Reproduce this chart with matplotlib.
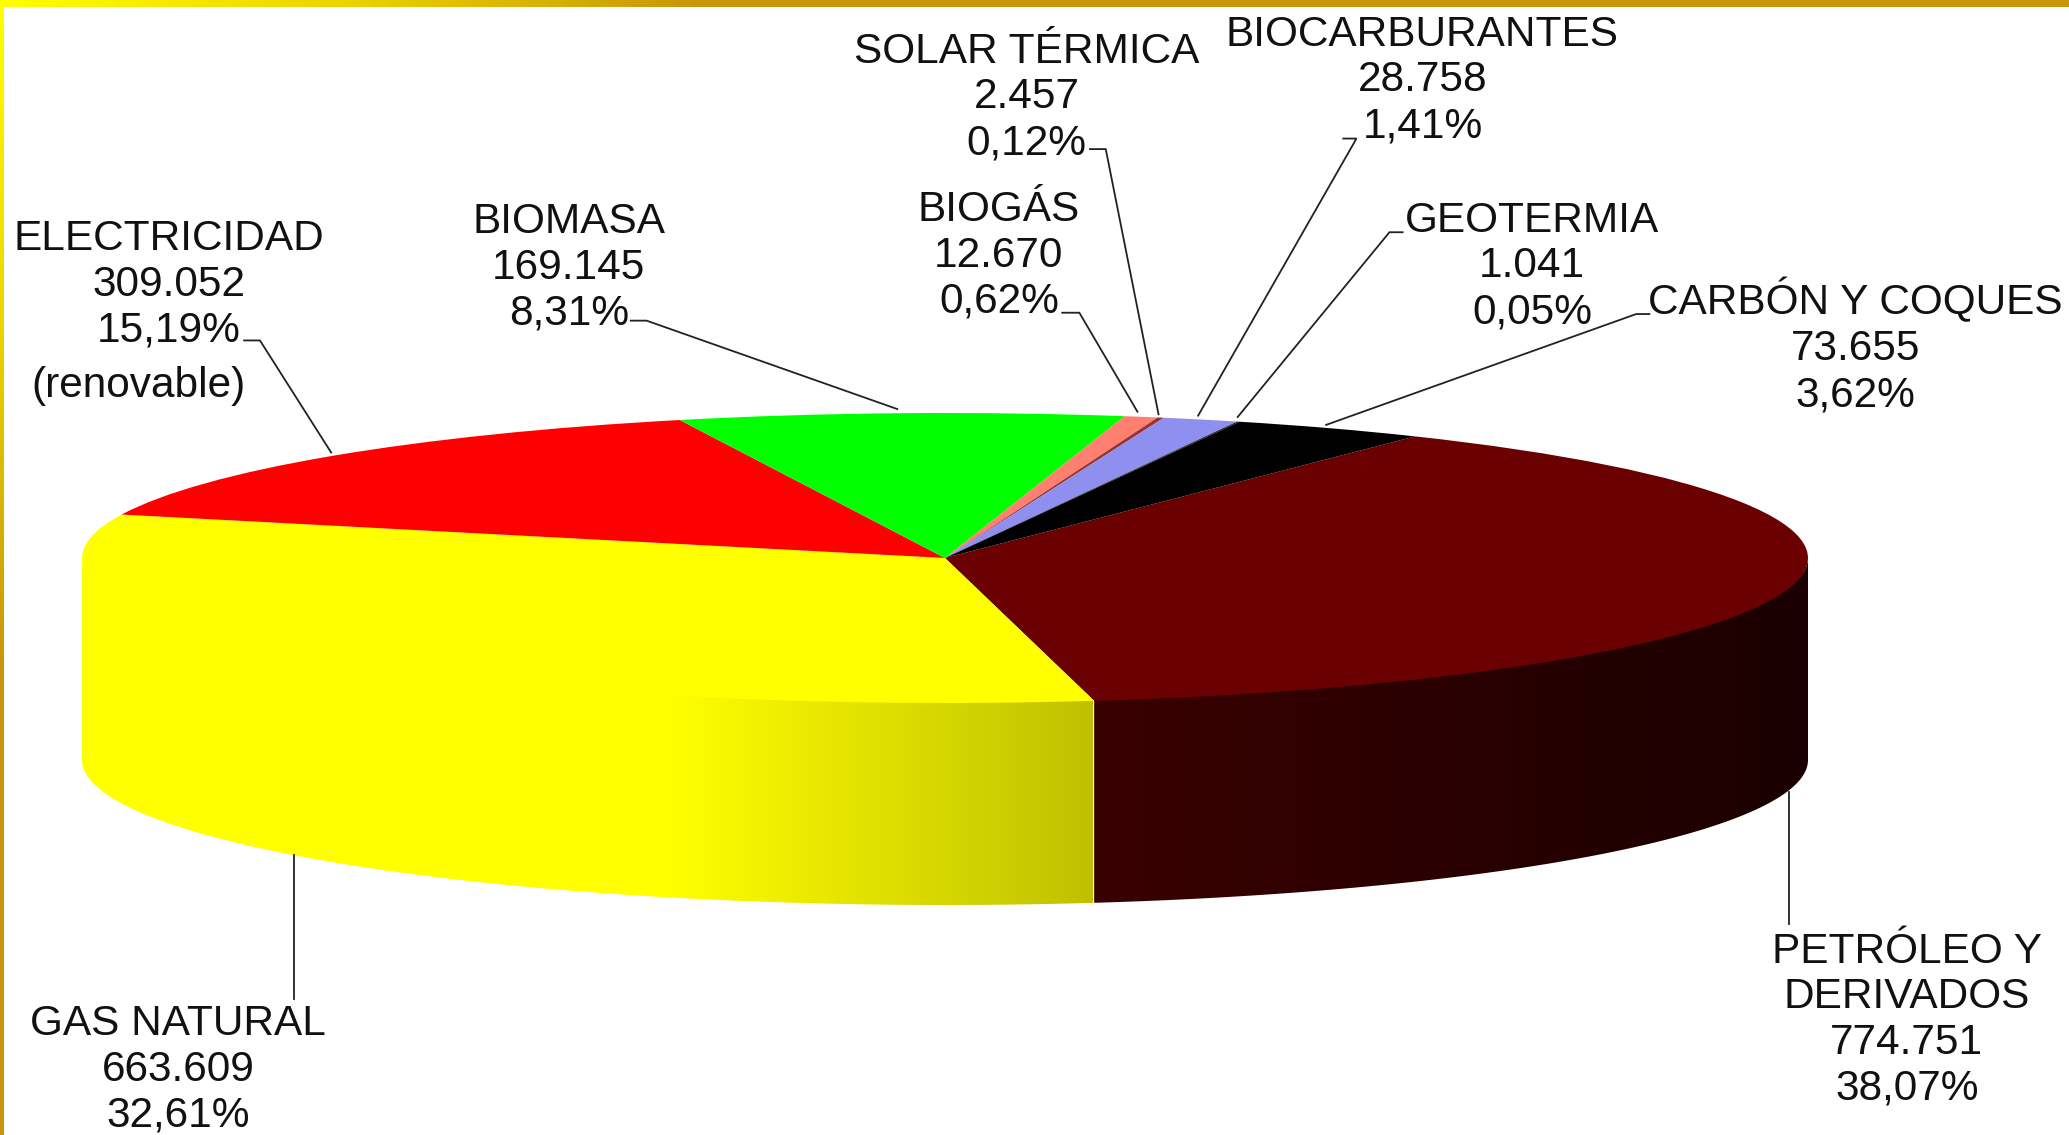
import numpy as np
import matplotlib
matplotlib.use("Agg")
import matplotlib.pyplot as plt
from matplotlib.colors import LinearSegmentedColormap
from matplotlib.patches import Polygon

# values in the same order as the slices run, clockwise from the oil slice
sources = ["PETRÓLEO Y\nDERIVADOS", "GAS NATURAL", "ELECTRICIDAD", "BIOMASA", "BIOGÁS",
           "SOLAR TÉRMICA", "BIOCARBURANTES", "GEOTERMIA", "CARBÓN Y COQUES"]
values = [774751, 663609, 309052, 169145, 12670, 2457, 28758, 1041, 73655]
value_labels = ["774.751", "663.609", "309.052", "169.145", "12.670",
                "2.457", "28.758", "1.041", "73.655"]
percent_labels = ["38,07%", "32,61%", "15,19%", "8,31%", "0,62%",
                  "0,12%", "1,41%", "0,05%", "3,62%"]
colors = ["#6b0000", "#ffff00", "#ff0000", "#00ff00", "#ff8070",
          "#993333", "#8f8ff0", "#202020", "#000000"]

W, H = 2069, 1135
S = W / 1568  # label positions were measured on the 1568 wide view
CX, CY = 945, 558
RX, RY = 863, 145
DEPTH = 202
START = 57

# centre x and y of the first line of each label
label_pos = [(1445, 718), (135, 773), (128, 178), (431, 165), (757, 156),
             (778, 36), (1078, 23), (1161, 164), (1406, 227)]
leaders = [
    [(1356, 600), (1356, 700)],
    [(223, 648), (223, 757)],
    [(185, 258), (197, 258), (251, 343)],
    [(478, 243), (490, 243), (680, 310)],
    [(805, 237), (818, 237), (862, 312)],
    [(826, 113), (838, 113), (878, 314)],
    [(1018, 105), (1028, 105), (908, 315)],
    [(1063, 176), (1053, 176), (938, 316)],
    [(1250, 238), (1240, 238), (1005, 322)],
]


def wall_polygon(a0, a1):
    """
        Outline of the side wall between two pie angles, in pie units
    :param a0: start angle in degrees
    :param a1: end angle in degrees
    :return: array of x, y
    """
    t = np.radians(np.linspace(a0, a1, 200))
    x, y = np.cos(t), np.sin(t)
    d = DEPTH / RY
    # upper arc sits a bit inside the top face so no white seam shows
    return np.column_stack([np.r_[x, x[::-1]], np.r_[y * 0.97, y[::-1] - d]])


def draw_wall(ax, a0, a1, c0, c1, px0, px1):
    """
        Draw a shaded wall piece, going from colour c0 at px0 to c1 at px1
    """
    cmap = LinearSegmentedColormap.from_list("wall", [c0, c1])
    x0, x1 = (px0 - CX) / RX, (px1 - CX) / RX
    grad = np.linspace(0, 1, 256).reshape(1, -1)
    im = ax.imshow(grad, cmap=cmap, extent=(x0, x1, -4, 2), aspect="auto", zorder=1)
    im.set_clip_path(Polygon(wall_polygon(a0, a1), transform=ax.transData))


def draw_band(ax, extent, vertical):
    """
        Draw one of the yellow to gold strips along the slide edge
    """
    cmap = LinearSegmentedColormap.from_list("band", ["#ffff00", "#ebd300", "#c8960c", "#c8960c"])
    grad = np.linspace(0, 1, 256)
    grad = grad.reshape(-1, 1) if vertical else grad.reshape(1, -1)
    ax.imshow(grad, cmap=cmap, extent=extent, aspect="auto", zorder=5)


plt.rcParams["font.family"] = ["Liberation Sans", "DejaVu Sans"]
fig = plt.figure(figsize=(W / 100, H / 100), dpi=100, facecolor="white")

# pie axes: one unit is one radius, squashed to an ellipse
ax = fig.add_axes([0, 0, 1, 1])
ax.pie(values, colors=colors, startangle=START, counterclock=False,
       wedgeprops={"linewidth": 0, "zorder": 3})
ax.set_aspect("auto")

angles = START - np.cumsum(values) / np.sum(values) * 360
draw_wall(ax, 0, angles[0], "#1a0000", "#3a0000", 1808, 1093)
draw_wall(ax, angles[0], -180, "#c0c000", "#ffff00", 1093, 670)
draw_wall(ax, angles[0], -180, "#ffff00", "#ffff00", 670, 82)
ax.set_xlim(-CX / RX, (W - CX) / RX)
ax.set_ylim((CY - H) / RY, CY / RY)
ax.axis("off")

# overlay in pixels for the labels and leader lines
over = fig.add_axes([0, 0, 1, 1], facecolor="none")
for line in leaders:
    pts = np.array(line) * S
    over.plot(pts[:, 0], pts[:, 1], color="#222222", lw=1.3, solid_joinstyle="miter")

for i in range(len(sources)):
    lines = sources[i].split("\n") + [value_labels[i], percent_labels[i]]
    x, y = label_pos[i]
    for j, txt in enumerate(lines):
        over.text(x * S, (y + 11.5 + j * 34.7) * S, txt, ha="center", va="baseline",
                  fontsize=30.5, color="#111111")
over.text(105 * S, 301 * S, "(renovable)", ha="center", va="baseline",
          fontsize=30.5, color="#111111")

draw_band(over, (0, 1050, 7, 0), False)
over.fill_between([1050, W], 0, 7, color="#c8960c", lw=0, zorder=5)
draw_band(over, (0, 4, 1000, 0), True)
over.fill_between([0, 4], 1000, H, color="#c8960c", lw=0, zorder=5)
over.set_xlim(0, W)
over.set_ylim(H, 0)
over.axis("off")

fig.savefig("out.png", dpi=100)
